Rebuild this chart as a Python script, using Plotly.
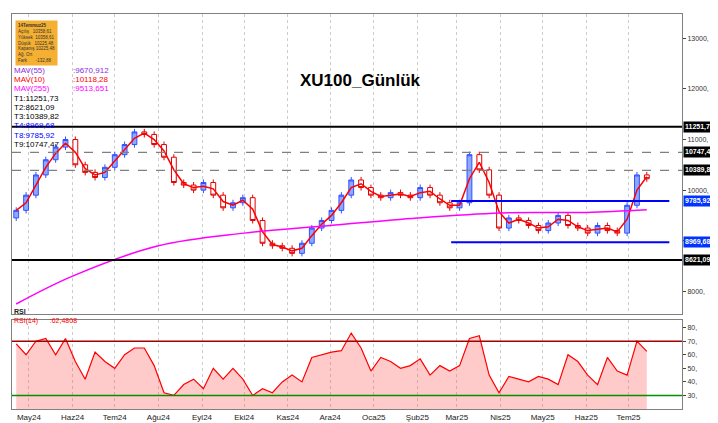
import plotly.graph_objects as go
import pandas as pd
from plotly.subplots import make_subplots

close = [9600, 9900, 10300, 10600, 10850, 11000, 10500, 10350, 10250, 10450, 10700, 10900, 11150, 11100,
         10900, 10650, 10150, 10100, 10000, 10150, 9900, 9650, 9750, 9850, 9400, 8950, 8900, 8850, 8750,
         8950, 9250, 9400, 9600, 9900, 10200, 10050, 9900, 9850, 9950, 9900, 9850, 10050, 9900, 9750, 9650,
         9750, 10700, 10400, 9900, 9250, 9450, 9400, 9300, 9200, 9350, 9500, 9300, 9250, 9150, 9300, 9200,
         9150, 9700, 10300, 10225]
rsi = [68, 60, 70, 72, 60, 72, 55, 42, 62, 55, 50, 60, 65, 65, 52, 32, 30, 38, 42, 35, 50, 42, 50, 42,
       30, 35, 32, 40, 45, 40, 58, 60, 62, 63, 76, 65, 48, 58, 55, 50, 52, 57, 45, 52, 48, 52, 72, 74,
       45, 32, 44, 42, 40, 44, 42, 38, 60, 55, 45, 38, 58, 48, 45, 70, 62.5]
ma255_dates = ["2024-04-22", "2024-06-01", "2024-08-01", "2024-10-01", "2024-12-01", "2025-02-01", "2025-04-01", "2025-06-01", "2025-07-14"]
ma255_vals = [7750, 8300, 8900, 9150, 9300, 9450, 9550, 9560, 9610]
n = len(close)
dates = pd.date_range("2024-04-22", periods=n, freq="7D")
opens = [close[0] - 150] + close[:-1]
highs = [max(o, c) + 60 for o, c in zip(opens, close)]
lows = [min(o, c) - 60 for o, c in zip(opens, close)]
ma10 = pd.Series(close).rolling(2, min_periods=1).mean()

fig = make_subplots(rows=2, cols=1, shared_xaxes=True, row_heights=[0.77, 0.23], vertical_spacing=0.015)
fig.add_trace(go.Candlestick(x=dates, open=opens, high=highs, low=lows, close=close,
                             increasing=dict(line=dict(color="#3050ff", width=1), fillcolor="#8fa8ff"),
                             decreasing=dict(line=dict(color="#e00000", width=1), fillcolor="#ffffff"),
                             whiskerwidth=0, showlegend=False), row=1, col=1)
fig.add_trace(go.Scatter(x=dates, y=ma10, mode="lines", line=dict(color="#ff0000", width=1.5), showlegend=False), row=1, col=1)
fig.add_trace(go.Scatter(x=pd.to_datetime(ma255_dates), y=ma255_vals, mode="lines", line=dict(color="#ff00ff", width=1.5, shape="spline"), showlegend=False), row=1, col=1)

levels = [(11251.73, "black", "solid", None), (10747.47, "gray", "dash", None), (10389.82, "gray", "dash", None),
          (9785.92, "#0000ff", "solid", "2025-02-25"), (8969.68, "#0000ff", "solid", "2025-02-25"), (8621.09, "black", "solid", None)]
for v, c, d, start in levels:
    fig.add_shape(type="line", xref="x" if start else "x domain", x0=start if start else 0, x1="2025-07-30" if start else 1,
                  yref="y", y0=v, y1=v, line=dict(color=c, dash=d, width=2 if c != "gray" else 1.2))
    bg = "#0033ff" if c == "#0000ff" else "black"
    fig.add_annotation(xref="paper", x=1.002, xanchor="left", yref="y", y=v, text=f"<b>{v:.2f}</b>".replace(".", ","),
                       showarrow=False, font=dict(color="white", size=7, family="Arial"), bgcolor=bg, borderpad=1)

fig.add_trace(go.Scatter(x=dates, y=rsi, mode="lines", line=dict(color="#ff0000", width=1.2), fill="tozeroy",
                         fillcolor="rgba(255,80,80,0.3)", showlegend=False), row=2, col=1)
fig.add_hline(y=70, line=dict(color="#a00000", width=1.5), row=2, col=1)
fig.add_hline(y=30, line=dict(color="#009000", width=1.5), row=2, col=1)

months = pd.date_range("2024-05-01", "2025-07-01", freq="MS")
tr = ["May", "Haz", "Tem", "Ağu", "Eyl", "Eki", "Kas", "Ara", "Oca", "Şub", "Mar", "Nis", "May", "Haz", "Tem"]
ticktext = [f"{tr[i]}{str(m.year)[2:]}" for i, m in enumerate(months)]
fig.update_xaxes(range=["2024-04-19", "2025-08-08"], showgrid=True, gridcolor="#cccccc", griddash="dot",
                 rangeslider_visible=False, showline=True, linecolor="gray", mirror=True, tickvals=months)
fig.update_xaxes(showticklabels=False, row=1, col=1)
fig.update_xaxes(ticktext=ticktext, tickfont=dict(size=8, color="#222"), row=2, col=1)
fig.update_yaxes(side="right", showgrid=False, showline=True, linecolor="gray", mirror=True, ticks="outside", ticklen=3,
                 tickfont=dict(size=7, color="#333"))
fig.update_yaxes(range=[7560, 13480], tickvals=[8000, 9000, 10000, 11000, 12000, 13000],
                 ticktext=["8000,", "9000,", "10000,", "11000,", "12000,", "13000,"], row=1, col=1)
fig.update_yaxes(range=[20, 86], tickvals=[30, 40, 50, 60, 70, 80], ticktext=["30,", "40,", "50,", "60,", "70,", "80,"], row=2, col=1)

txt = [("MAV(55)", ":9670,912", "#8a2be2"), ("MAV(10)", ":10118,28", "#ff0000"), ("MAV(255)", ":9513,651", "#ff00ff")]
for i, (a, b, c) in enumerate(txt):
    fig.add_annotation(xref="paper", yref="paper", x=0.0, y=0.858 - i * 0.0235, xanchor="left", text=a, showarrow=False, font=dict(size=8, color=c), yanchor="middle")
    fig.add_annotation(xref="paper", yref="paper", x=0.088, y=0.858 - i * 0.0235, xanchor="left", text=b, showarrow=False, font=dict(size=8, color=c), yanchor="middle")
tl = [("T1:11251,73", "black"), ("T2:8621,09", "black"), ("T3:10389,82", "black"), ("T4:8969,68", "#0000ff"), ("T8:9785,92", "#0000ff"), ("T9:10747,47", "black")]
for i, (t, c) in enumerate(tl):
    fig.add_annotation(xref="paper", yref="paper", x=0.0, y=0.787 - i * 0.0235, xanchor="left", yanchor="middle", text=t, showarrow=False, font=dict(size=8, color=c))
fig.add_annotation(xref="paper", yref="paper", x=0.004, y=0.985, xanchor="left", yanchor="top", align="left", showarrow=False, bgcolor="#f5b032",
                   text="<b>14Temmuz25</b><br>Açılış   10358,61<br>Yüksek  10358,61<br>Düşük   10225,48<br>Kapanış 10225,48<br>Ağ. Ort<br>Fark       -132,88",
                   font=dict(size=4.5, color="#333"), borderpad=2)
fig.add_annotation(xref="paper", yref="paper", x=0.52, y=0.86, text="<b>XU100_Günlük</b>", showarrow=False, font=dict(size=17, color="black", family="Arial"))
fig.add_annotation(xref="paper", yref="paper", x=0.0, y=0.232, xanchor="left", text="<b>RSI</b>", showarrow=False, font=dict(size=7, color="#222"))
fig.add_annotation(xref="paper", yref="paper", x=0.0, y=0.207, xanchor="left", text="RSI(14)      :62,4808", showarrow=False, font=dict(size=7, color="#ff0000"))

fig.update_layout(width=718, height=423, margin=dict(l=4, r=44, t=6, b=22), paper_bgcolor="white", plot_bgcolor="white",
                  font=dict(family="Arial"))
fig.write_html("out.html")
